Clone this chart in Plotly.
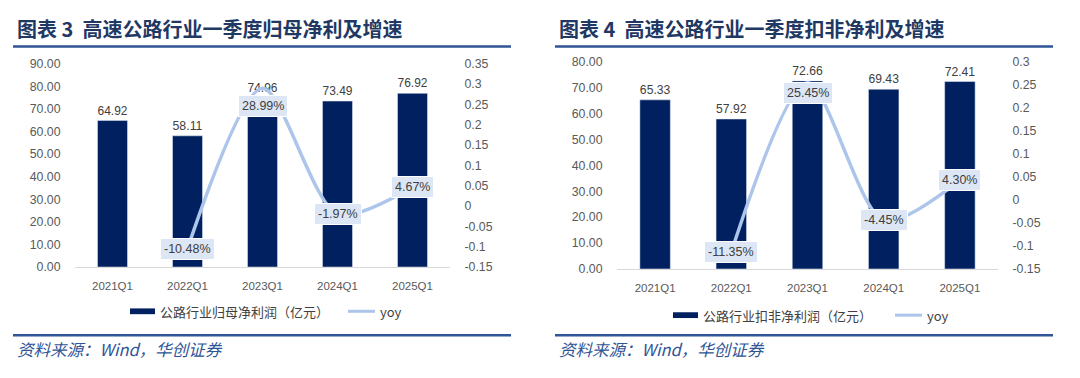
import plotly.graph_objects as go

# ---------------- data ----------------
categories = ["2021Q1", "2022Q1", "2023Q1", "2024Q1", "2025Q1"]
yoy_categories = ["2022Q1", "2023Q1", "2024Q1", "2025Q1"]

left_title = "图表 3  高速公路行业一季度归母净利及增速"
left_bar_name = "公路行业归母净利润（亿元）"
left_bars = [64.92, 58.11, 74.96, 73.49, 76.92]
left_yoy_pct = [-10.48, 28.99, -1.97, 4.67]
left_y_ticks = [0, 10, 20, 30, 40, 50, 60, 70, 80, 90]
left_y2_ticks = [-0.15, -0.1, -0.05, 0, 0.05, 0.1, 0.15, 0.2, 0.25, 0.3, 0.35]

right_title = "图表 4  高速公路行业一季度扣非净利及增速"
right_bar_name = "公路行业扣非净利润（亿元）"
right_bars = [65.33, 57.92, 72.66, 69.43, 72.41]
right_yoy_pct = [-11.35, 25.45, -4.45, 4.30]
right_y_ticks = [0, 10, 20, 30, 40, 50, 60, 70, 80]
right_y2_ticks = [-0.15, -0.1, -0.05, 0, 0.05, 0.1, 0.15, 0.2, 0.25, 0.3]

line_name = "yoy"
source_text = "资料来源：<i>Wind</i>，华创证券"

# ---------------- style ----------------
W, H = 1080, 378
BAR = "#002060"
LINE = "#adc5ea"
BOXFILL = "#dce6f4"
TXT = "#404040"
TICK = "#595959"
TITLE = "#1f3864"
RULE = "#2f5597"
NUM_FONT = "Liberation Sans"
CJK_FONT = "Noto Sans CJK SC"


def px_x(p):
    return p / W


def px_y(p):
    return 1 - p / H


def gen(v):
    s = f"{round(v, 4):g}"
    return "0" if s in ("-0", "0") else s


fig = go.Figure()

fig.add_trace(go.Bar(x=categories, y=left_bars, xaxis="x", yaxis="y",
                     marker_color=BAR, text=[f"{v:.2f}" for v in left_bars],
                     textposition="outside", cliponaxis=False,
                     textfont=dict(color=TXT, size=12.5, family=NUM_FONT),
                     name=left_bar_name))
fig.add_trace(go.Scatter(x=yoy_categories, y=[v / 100 for v in left_yoy_pct],
                         xaxis="x", yaxis="y2", mode="lines",
                         line=dict(color=LINE, width=3.5, shape="spline", smoothing=0.8),
                         name=line_name))
fig.add_trace(go.Bar(x=categories, y=right_bars, xaxis="x2", yaxis="y3",
                     marker_color=BAR, text=[f"{v:.2f}" for v in right_bars],
                     textposition="outside", cliponaxis=False,
                     textfont=dict(color=TXT, size=12.5, family=NUM_FONT),
                     name=right_bar_name))
fig.add_trace(go.Scatter(x=yoy_categories, y=[v / 100 for v in right_yoy_pct],
                         xaxis="x2", yaxis="y4", mode="lines",
                         line=dict(color=LINE, width=3.5, shape="spline", smoothing=0.8),
                         name=line_name))

tickfont = dict(color=TICK, size=12.3, family=NUM_FONT)
xcommon = dict(showgrid=False, zeroline=False, showline=True, linecolor="#d9d9d9",
               linewidth=1, ticks="outside", ticklen=8, tickcolor="rgba(0,0,0,0)",
               tickfont=dict(color=TICK, size=11.5, family=NUM_FONT))
ycommon = dict(showgrid=False, zeroline=False, showline=False, ticks="outside",
               ticklen=11, tickcolor="rgba(0,0,0,0)", tickfont=tickfont)

fig.update_layout(
    width=W, height=H, margin=dict(l=0, r=0, t=0, b=0),
    paper_bgcolor="white", plot_bgcolor="white", showlegend=False,
    bargap=0.6, hovermode=False,
    xaxis=dict(domain=[px_x(75), px_x(450)], anchor="y", **xcommon),
    yaxis=dict(domain=[px_y(270), px_y(59)], range=[0, 90], anchor="x",
               tickvals=left_y_ticks, ticktext=[f"{v:.2f}" for v in left_y_ticks], **ycommon),
    yaxis2=dict(overlaying="y", side="right", anchor="x", range=[-0.15, 0.35],
                tickvals=left_y2_ticks, ticktext=[gen(v) for v in left_y2_ticks], **ycommon),
    xaxis2=dict(domain=[px_x(617), px_x(998)], anchor="y3", **xcommon),
    yaxis3=dict(domain=[px_y(272), px_y(57)], range=[0, 80], anchor="x2",
                tickvals=right_y_ticks, ticktext=[f"{v:.2f}" for v in right_y_ticks], **ycommon),
    yaxis4=dict(overlaying="y3", side="right", anchor="x2", range=[-0.15, 0.3],
                tickvals=right_y2_ticks, ticktext=[gen(v) for v in right_y2_ticks], **ycommon),
)

# yoy data labels
label_shift = {("y2", "2023Q1"): -18, ("y4", "2023Q1"): -10}
for yref, xref, vals in (("y2", "x", left_yoy_pct), ("y4", "x2", right_yoy_pct)):
    for c, v in zip(yoy_categories, vals):
        fig.add_annotation(x=c, y=v / 100, xref=xref, yref=yref, text=f"{v:.2f}%",
                           showarrow=False, bgcolor=BOXFILL, bordercolor="white",
                           borderwidth=1, borderpad=3,
                           yshift=label_shift.get((yref, c), 0),
                           font=dict(color=TXT, size=12.5, family=NUM_FONT))

# titles, rules, legends, source
panels = [
    dict(x0=13, x1=511, tx=15, title=left_title, bar_name=left_bar_name,
         sw=(130, 155), tx_bar=158, ln=(348, 375), tx_ln=378, ly=316),
    dict(x0=555, x1=1053, tx=557, title=right_title, bar_name=right_bar_name,
         sw=(673, 698), tx_bar=701, ln=(895, 922), tx_ln=925, ly=320),
]
for p in panels:
    fig.add_annotation(x=px_x(p["tx"]), y=px_y(22), xref="paper", yref="paper",
                       xanchor="left", yanchor="middle", showarrow=False,
                       text=f"<b>{p['title']}</b>",
                       font=dict(color=TITLE, size=20, family=CJK_FONT))
    for yy in (41, 341):
        fig.add_shape(type="line", xref="paper", yref="paper",
                      x0=px_x(p["x0"]), x1=px_x(p["x1"]), y0=px_y(yy), y1=px_y(yy),
                      line=dict(color=RULE, width=2.5))
    fig.add_shape(type="rect", xref="paper", yref="paper",
                  x0=px_x(p["sw"][0]), x1=px_x(p["sw"][1]),
                  y0=px_y(p["ly"] + 3), y1=px_y(p["ly"] - 3),
                  line=dict(width=0), fillcolor=BAR)
    fig.add_annotation(x=px_x(p["tx_bar"]), y=px_y(p["ly"]), xref="paper", yref="paper",
                       xanchor="left", yanchor="middle", showarrow=False,
                       text=p["bar_name"], font=dict(color=TXT, size=13, family=CJK_FONT))
    fig.add_shape(type="line", xref="paper", yref="paper",
                  x0=px_x(p["ln"][0]), x1=px_x(p["ln"][1]),
                  y0=px_y(p["ly"]), y1=px_y(p["ly"]),
                  line=dict(color=LINE, width=3))
    fig.add_annotation(x=px_x(p["tx_ln"]), y=px_y(p["ly"]), xref="paper", yref="paper",
                       xanchor="left", yanchor="middle", showarrow=False,
                       text=line_name, font=dict(color=TXT, size=13, family=CJK_FONT))
    fig.add_annotation(x=px_x(p["tx"]), y=px_y(355), xref="paper", yref="paper",
                       xanchor="left", yanchor="middle", showarrow=False,
                       text=f"<i>{source_text}</i>",
                       font=dict(color=RULE, size=16.5, family=CJK_FONT))

fig.write_html(
    "out.html",
    config={"displayModeBar": False},
    post_script="document.body.style.margin='0';document.body.style.padding='0';"
                "document.body.style.overflow='hidden';",
)
